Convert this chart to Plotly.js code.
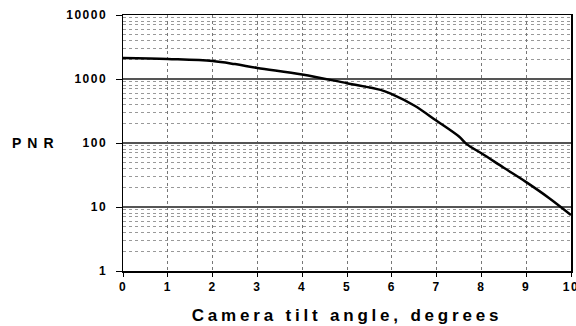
<!DOCTYPE html>
<html>
<head>
<meta charset="utf-8">
<script src="https://cdn.plot.ly/plotly-3.0.1.min.js"></script>
<style>
html,body{margin:0;padding:0;background:#fff;}
#chart{width:576px;height:326px;}
.xtick text,.ytick text{letter-spacing:1.5px;}
.xtitle{letter-spacing:3.8px;}
.annotation-text{letter-spacing:6px;}
</style>
</head>
<body>
<div id="chart"></div>
<script>
var tiltAngle = [0, 1, 2, 2.5, 3, 4, 5, 5.75, 6, 6.5, 7, 7.5, 7.67, 8, 8.5, 9, 9.5, 10];
var pnr = [2130, 2050, 1910, 1710, 1490, 1180, 860, 675, 580, 385, 222, 126, 96, 69, 41, 24.5, 14, 7.5];
var yTickVals = [1, 10, 100, 1000, 10000];
var yTickText = ["1", "10", "100", "1000", "10000"];
var xTitle = "Camera tilt angle, degrees";
var yTitle = "PNR";

var fontFam = "Liberation Sans, Arial, sans-serif";
var trace = {
  x: tiltAngle, y: pnr, type: "scatter", mode: "lines",
  line: {color: "#000", width: 2.5, shape: "spline", smoothing: 1},
  hoverinfo: "skip"
};
var layout = {
  width: 576, height: 326,
  margin: {l: 123, r: 5, t: 15, b: 55},
  paper_bgcolor: "#fff", plot_bgcolor: "#fff",
  showlegend: false,
  font: {family: fontFam, color: "#000", size: 12, weight: "bold"},
  xaxis: {
    range: [0, 10], dtick: 1, tick0: 0,
    showline: true, linecolor: "#000", linewidth: 1.5, mirror: true,
    ticks: "outside", ticklen: 4, tickcolor: "#000", tickwidth: 1,
    showgrid: true, gridcolor: "#777", griddash: "dot", gridwidth: 1,
    zeroline: false,
    ticklabeloverflow: "allow",
    tickfont: {family: fontFam, size: 12, weight: "bold"},
    title: {text: xTitle, font: {family: fontFam, size: 17, weight: "bold"}, standoff: 16}
  },
  yaxis: {
    type: "log", range: [0, 4],
    tickvals: yTickVals, ticktext: yTickText,
    showline: true, linecolor: "#000", linewidth: 1.5, mirror: true,
    ticks: "outside", ticklen: 6, tickcolor: "#000", tickwidth: 1,
    showgrid: true, gridcolor: "#555", gridwidth: 1.5,
    zeroline: false,
    ticklabelstandoff: 6,
    tickfont: {family: fontFam, size: 12, weight: "bold"},
    minor: {dtick: "D1", showgrid: true, gridcolor: "#999", griddash: "dot", gridwidth: 1, ticks: ""}
  },
  annotations: [{
    text: yTitle, xref: "paper", yref: "paper", x: -0.194, y: 0.5,
    xanchor: "center", yanchor: "middle", showarrow: false,
    font: {family: fontFam, size: 14, weight: "bold", color: "#000"}
  }]
};
Plotly.newPlot("chart", [trace], layout, {staticPlot: true, displayModeBar: false});
</script>
</body>
</html>
